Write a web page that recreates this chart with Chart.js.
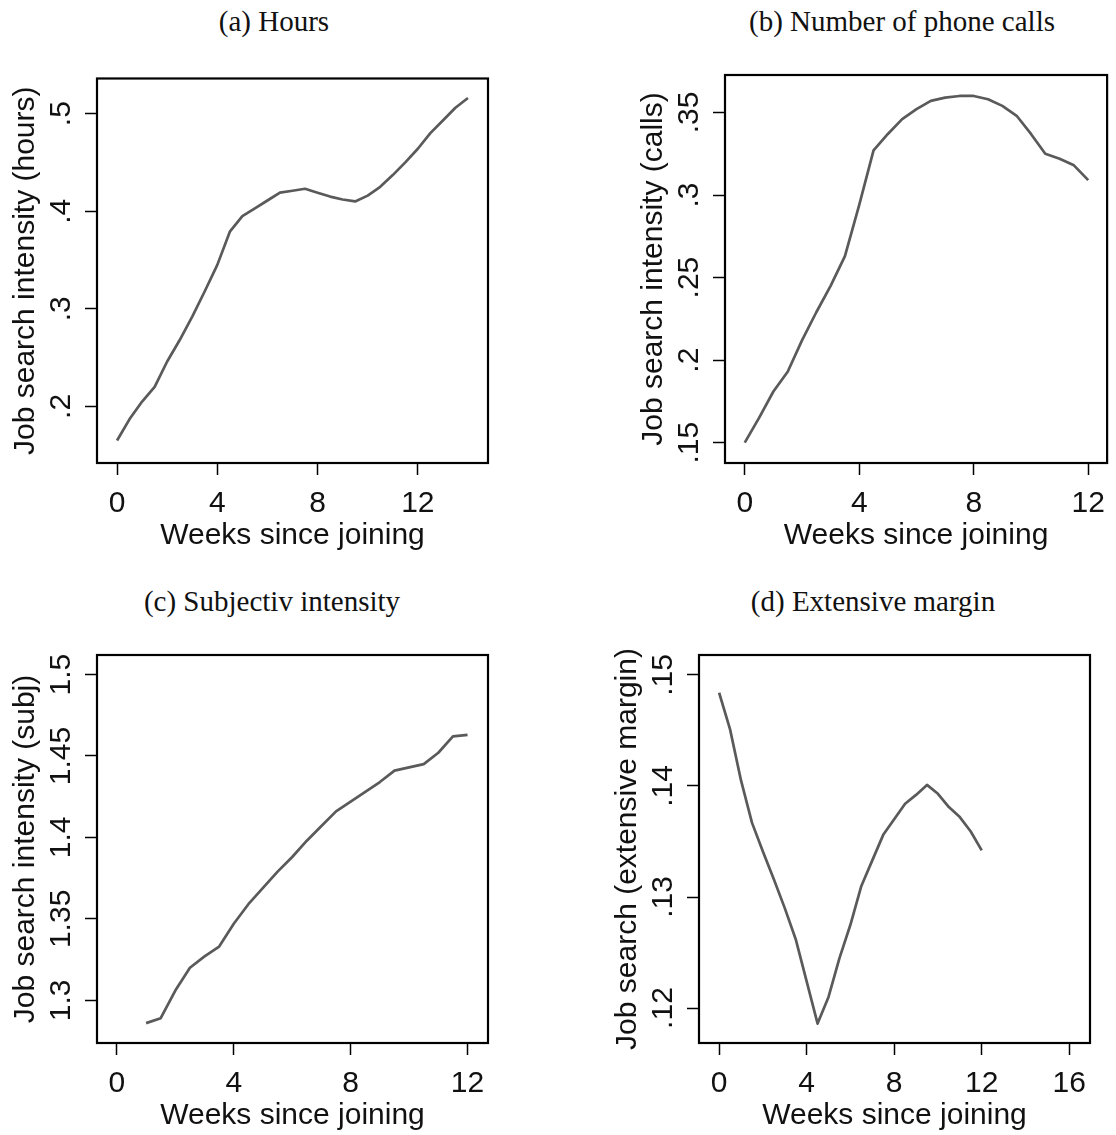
<!DOCTYPE html>
<html>
<head>
<meta charset="utf-8">
<script src="https://cdn.jsdelivr.net/npm/chart.js@4/dist/chart.umd.min.js"></script>
<style>
  body { margin: 0; background: #fff; }
  #wrap { position: relative; width: 1116px; height: 1135px; background: #fff; overflow: hidden; }
  #wrap canvas { position: absolute; }
  .ttl { position: absolute; width: 400px; text-align: center; font: 29px/30px "Liberation Serif", serif; color: #111; white-space: nowrap; }
</style>
</head>
<body>
<div id="wrap">
  <div class="ttl" style="left:74px;top:6px">(a) Hours</div>
  <div class="ttl" style="left:702px;top:6px">(b) Number of phone calls</div>
  <div class="ttl" style="left:72px;top:586px">(c) Subjectiv intensity</div>
  <div class="ttl" style="left:673px;top:586px">(d) Extensive margin</div>
  <canvas id="cA" width="558" height="515" style="left:0;top:50px"></canvas>
  <canvas id="cB" width="558" height="515" style="left:558px;top:50px"></canvas>
  <canvas id="cC" width="558" height="505" style="left:0;top:630px"></canvas>
  <canvas id="cD" width="558" height="505" style="left:558px;top:630px"></canvas>
</div>
<script>
// (a) hours
var weeksA = [0, 0.5, 1, 1.5, 2, 2.5, 3, 3.5, 4, 4.5, 5, 5.5, 6, 6.5, 7, 7.5, 8, 8.5, 9, 9.5, 10, 10.5, 11, 11.5, 12, 12.5, 13, 13.5, 14];
var hoursA = [0.165, 0.187, 0.205, 0.220, 0.246, 0.268, 0.292, 0.318, 0.345, 0.379, 0.395, 0.403, 0.411, 0.419, 0.421, 0.423, 0.419, 0.415, 0.412, 0.410, 0.416, 0.425, 0.437, 0.450, 0.464, 0.480, 0.493, 0.506, 0.516];
var xTicksA = [0, 4, 8, 12];
var yTicksA = [0.2, 0.3, 0.4, 0.5];

// (b) phone calls
var weeksB = [0, 0.5, 1, 1.5, 2, 2.5, 3, 3.5, 4, 4.5, 5, 5.5, 6, 6.5, 7, 7.5, 8, 8.5, 9, 9.5, 10, 10.5, 11, 11.5, 12];
var callsB = [0.150, 0.165, 0.181, 0.193, 0.212, 0.229, 0.245, 0.263, 0.294, 0.327, 0.337, 0.346, 0.352, 0.357, 0.359, 0.360, 0.360, 0.358, 0.354, 0.348, 0.337, 0.325, 0.322, 0.318, 0.309];
var xTicksB = [0, 4, 8, 12];
var yTicksB = [0.15, 0.2, 0.25, 0.3, 0.35];

// (c) subjective intensity
var weeksC = [1, 1.5, 2, 2.5, 3, 3.5, 4, 4.5, 5, 5.5, 6, 6.5, 7, 7.5, 8, 8.5, 9, 9.5, 10, 10.5, 11, 11.5, 12];
var subjC = [1.286, 1.289, 1.306, 1.320, 1.327, 1.333, 1.347, 1.359, 1.369, 1.379, 1.388, 1.398, 1.407, 1.416, 1.422, 1.428, 1.434, 1.441, 1.443, 1.445, 1.452, 1.462, 1.463];
var xTicksC = [0, 4, 8, 12];
var yTicksC = [1.3, 1.35, 1.4, 1.45, 1.5];

// (d) extensive margin
var weeksD = [0, 0.5, 1, 1.5, 2, 2.5, 3, 3.5, 4, 4.5, 5, 5.5, 6, 6.5, 7, 7.5, 8, 8.5, 9, 9.5, 10, 10.5, 11, 11.5, 12];
var extD = [0.1484, 0.1451, 0.1405, 0.1367, 0.1341, 0.1316, 0.1290, 0.1262, 0.1224, 0.1186, 0.1210, 0.1245, 0.1275, 0.1310, 0.1333, 0.1356, 0.1370, 0.1384, 0.1392, 0.1401, 0.1393, 0.1381, 0.1372, 0.1359, 0.1342];
var xTicksD = [0, 4, 8, 12, 16];
var yTicksD = [0.12, 0.13, 0.14, 0.15];

var FONT = '"Liberation Sans", Arial, sans-serif';
var FSIZE = 30;
var Y_AXIS_W = 89;   // room left of the plot box for y labels + title
var X_AXIS_H = 91;   // room below the plot box for x labels + title

// stata style: .5 instead of 0.5
function fmt(v) {
  return String(v).replace(/^0\./, '.');
}

function widestLabel(labels) {
  var c = document.createElement('canvas').getContext('2d');
  c.font = FSIZE + 'px ' + FONT;
  return Math.max.apply(null, labels.map(function (t) { return c.measureText(t).width; }));
}

// black frame round the plot region
var framePlugin = {
  id: 'frame',
  afterDraw: function (chart) {
    var a = chart.chartArea, ctx = chart.ctx;
    ctx.save();
    ctx.strokeStyle = '#000';
    ctx.lineWidth = 2.2;
    ctx.strokeRect(a.left, a.top, a.right - a.left, a.bottom - a.top);
    ctx.restore();
  }
};

function makePanel(p) {
  var cv = document.getElementById(p.id);
  var cLeft = parseFloat(cv.style.left), cTop = parseFloat(cv.style.top);
  var box = p.box;
  var yPad = 23 - widestLabel(p.yTicks.map(fmt)) / 2; // centres rotated labels 35px left of the box

  return new Chart(cv.getContext('2d'), {
    type: 'line',
    data: {
      datasets: [{
        data: p.weeks.map(function (w, i) { return { x: w, y: p.values[i] }; }),
        borderColor: '#5a5a5a',
        borderWidth: 2.7,
        borderJoinStyle: 'round',
        pointRadius: 0,
        tension: 0,
        fill: false
      }]
    },
    plugins: [framePlugin],
    options: {
      responsive: false,
      animation: false,
      layout: {
        padding: {
          left: box.l - Y_AXIS_W - cLeft,
          right: cLeft + cv.width - box.r,
          top: box.t - cTop,
          bottom: cTop + cv.height - box.b - X_AXIS_H
        }
      },
      plugins: { legend: { display: false }, tooltip: { enabled: false } },
      scales: {
        x: {
          type: 'linear',
          min: p.xMin,
          max: p.xMax,
          afterBuildTicks: function (s) { s.ticks = p.xTicks.map(function (v) { return { value: v }; }); },
          afterFit: function (s) { s.height = X_AXIS_H; },
          grid: { display: true, drawOnChartArea: false, drawTicks: true, tickLength: 12, tickWidth: 1.5, tickColor: '#000' },
          border: { display: false },
          ticks: { autoSkip: false, maxRotation: 0, padding: 11, color: '#111', font: { family: FONT, size: FSIZE }, callback: fmt },
          title: { display: true, text: 'Weeks since joining', color: '#111', padding: 0, font: { family: FONT, size: FSIZE } }
        },
        y: {
          type: 'linear',
          min: p.yMin,
          max: p.yMax,
          afterBuildTicks: function (s) { s.ticks = p.yTicks.map(function (v) { return { value: v }; }); },
          afterFit: function (s) { s.width = Y_AXIS_W; },
          grid: { display: true, drawOnChartArea: false, drawTicks: true, tickLength: 12, tickWidth: 1.5, tickColor: '#000' },
          border: { display: false },
          ticks: { autoSkip: false, minRotation: 90, maxRotation: 90, crossAlign: 'center', padding: yPad, color: '#111', font: { family: FONT, size: FSIZE }, callback: fmt },
          title: { display: true, text: p.yLabel, color: '#111', padding: 0, font: { family: FONT, size: FSIZE } }
        }
      }
    }
  });
}

makePanel({ id: 'cA', box: { l: 97, t: 75, r: 488, b: 463 }, weeks: weeksA, values: hoursA, xTicks: xTicksA, yTicks: yTicksA,
  xMin: -0.8, xMax: 14.8, yMin: 0.142, yMax: 0.536, yLabel: 'Job search intensity (hours)' });
makePanel({ id: 'cB', box: { l: 725, t: 75, r: 1114, b: 463 }, weeks: weeksB, values: callsB, xTicks: xTicksB, yTicks: yTicksB,
  xMin: -0.69, xMax: 12.66, yMin: 0.1377, yMax: 0.3727, yLabel: 'Job search intensity (calls)' });
makePanel({ id: 'cC', box: { l: 97, t: 655, r: 488, b: 1043 }, weeks: weeksC, values: subjC, xTicks: xTicksC, yTicks: yTicksC,
  xMin: -0.68, xMax: 12.7, yMin: 1.2738, yMax: 1.512, yLabel: 'Job search intensity (subj)' });
makePanel({ id: 'cD', box: { l: 699, t: 655, r: 1090, b: 1043 }, weeks: weeksD, values: extD, xTicks: xTicksD, yTicks: yTicksD,
  xMin: -0.92, xMax: 16.95, yMin: 0.11685, yMax: 0.1518, yLabel: 'Job search (extensive margin)' });
</script>
</body>
</html>
